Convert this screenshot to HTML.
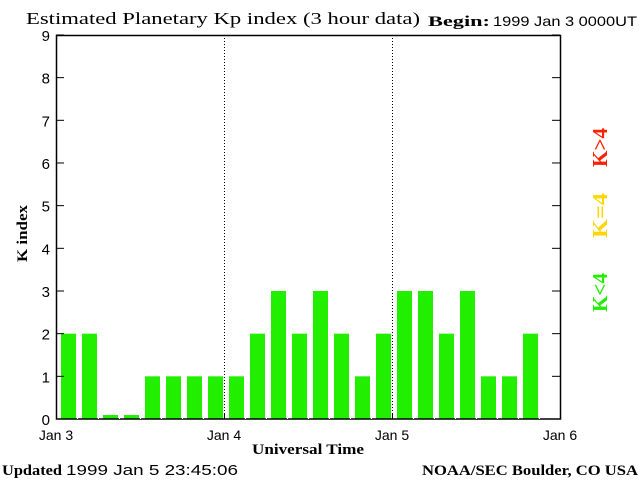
<!DOCTYPE html>
<html><head><meta charset="utf-8"><style>
html,body{margin:0;padding:0;background:#fff;}
svg{display:block;}
.s{font-family:"Liberation Serif",serif;font-weight:bold;}
.n{font-family:"Liberation Sans",sans-serif;}
</style></head><body>
<svg width="640" height="480" viewBox="0 0 640 480" xmlns="http://www.w3.org/2000/svg">
<rect width="640" height="480" fill="#fff"/>
<text x="26" y="24" font-family="Liberation Serif,serif" font-size="17" textLength="394" lengthAdjust="spacingAndGlyphs">Estimated Planetary Kp index (3 hour data)</text>
<text x="428" y="26" class="s" font-size="15" textLength="62" lengthAdjust="spacingAndGlyphs">Begin:</text>
<text x="493" y="26" class="n" font-size="14" textLength="144" lengthAdjust="spacingAndGlyphs">1999 Jan 3 0000UT</text>
<g id="bars" fill="#22ee00"></g>
<line x1="224.5" y1="35" x2="224.5" y2="419" stroke="#000" stroke-dasharray="1,2"/>
<line x1="392.5" y1="35" x2="392.5" y2="419" stroke="#000" stroke-dasharray="1,2"/>
<rect x="56.5" y="35.5" width="504" height="383.5" fill="none" stroke="#000" stroke-width="1.5"/>
<g id="ticks" stroke="#000"></g>
<g class="n" font-size="15" text-anchor="end" id="ylab"></g>
<g class="n" font-size="14" text-anchor="middle">
<text x="56" y="440">Jan 3</text><text x="224" y="440">Jan 4</text><text x="392" y="440">Jan 5</text><text x="560" y="440">Jan 6</text>
</g>
<text x="252" y="454" class="s" font-size="15" textLength="112" lengthAdjust="spacingAndGlyphs">Universal Time</text>
<text transform="translate(27,262) rotate(-90)" class="s" font-size="15" textLength="57" lengthAdjust="spacingAndGlyphs">K index</text>
<text transform="translate(607,167) rotate(-90)" class="s" font-size="21" fill="#ff2000" textLength="39" lengthAdjust="spacingAndGlyphs">K&gt;4</text>
<text transform="translate(607,238) rotate(-90)" class="s" font-size="21" fill="#ffd700" textLength="45" lengthAdjust="spacingAndGlyphs">K=4</text>
<text transform="translate(607,312) rotate(-90)" class="s" font-size="21" fill="#22ee00" textLength="39" lengthAdjust="spacingAndGlyphs">K&lt;4</text>
<text x="2" y="475" class="s" font-size="15" textLength="60" lengthAdjust="spacingAndGlyphs">Updated</text>
<text x="66" y="475" class="n" font-size="15" textLength="172" lengthAdjust="spacingAndGlyphs">1999 Jan  5 23:45:06</text>
<text x="422" y="475" class="s" font-size="15" textLength="216" lengthAdjust="spacingAndGlyphs">NOAA/SEC Boulder, CO USA</text>
</svg>
<script>
var v=[2,2,0,0,1,1,1,1,1,2,3,2,3,2,1,2,3,3,2,3,1,1,2];
var ns="http://www.w3.org/2000/svg",b=document.getElementById('bars'),t=document.getElementById('ticks'),yl=document.getElementById('ylab');
var u=42.67,base=419;
v.forEach(function(k,i){var h=k==0?4:k*u;var r=document.createElementNS(ns,'rect');
r.setAttribute('x',61+21*i);r.setAttribute('y',base-h);r.setAttribute('width',15);r.setAttribute('height',h);b.appendChild(r);});
for(var i=1;i<24;i++){var x=56.5+21*i;var l=document.createElementNS(ns,'line');
l.setAttribute('x1',x);l.setAttribute('x2',x);l.setAttribute('y1',419);l.setAttribute('y2',413);l.setAttribute('stroke',i%8==0?'#000':'#fff');t.appendChild(l);}
for(var k=0;k<=9;k++){var y=base-k*u;
['56','560'].forEach(function(xx,j){var l=document.createElementNS(ns,'line');
l.setAttribute('x1',xx);l.setAttribute('x2',j?552:64);l.setAttribute('y1',y);l.setAttribute('y2',y);t.appendChild(l);});
var tx=document.createElementNS(ns,'text');tx.setAttribute('x',50);tx.setAttribute('y',y+6);tx.textContent=k;yl.appendChild(tx);}
</script>
</body></html>
